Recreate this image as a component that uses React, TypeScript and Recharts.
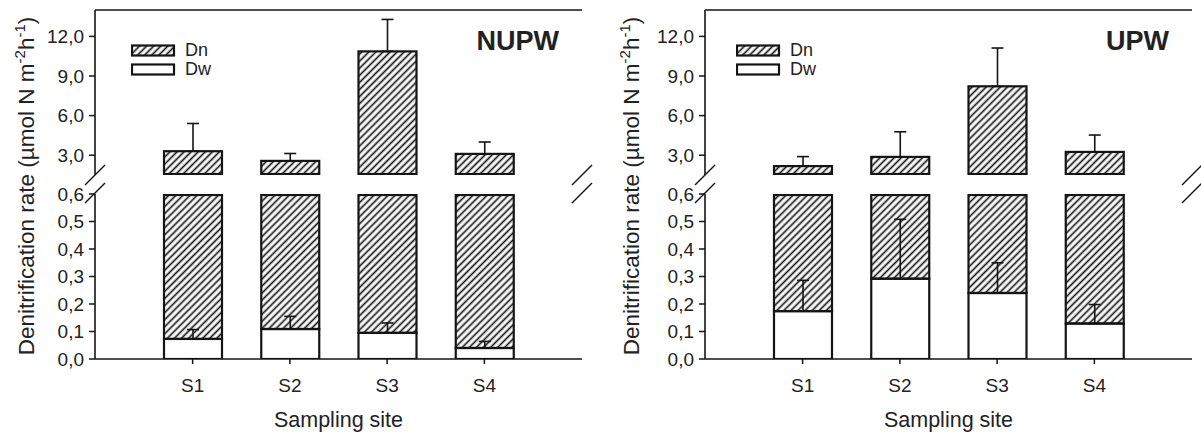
import { Bar, BarChart, ErrorBar, Legend, ReferenceLine, XAxis, YAxis } from 'recharts'

const sites = ['S1', 'S2', 'S3', 'S4']
const seriesNames = ['Dn', 'Dw']

// NUPW panel
const nupwDw = [0.073, 0.109, 0.095, 0.04]
const nupwDwErr = [0.034, 0.046, 0.036, 0.024]
const nupwDn = [3.23, 2.46, 10.77, 3.06]
const nupwDnErr = [2.1, 0.56, 2.42, 0.9]

// UPW panel
const upwDw = [0.174, 0.292, 0.24, 0.129]
const upwDwErr = [0.112, 0.216, 0.11, 0.069]
const upwDn = [2.0, 2.58, 7.98, 3.12]
const upwDnErr = [0.72, 1.9, 2.9, 1.28]

const upperTicks = [3, 6, 9, 12]
const lowerTicks = [0, 0.1, 0.2, 0.3, 0.4, 0.5, 0.6]
const upperDomain = [1.5, 14]
const lowerDomain = [0, 0.6]

const W = 600
const H = 432
const AXIS_W = 95
const RIGHT = 18
const UPPER_TOP = 10
const UPPER_BOTTOM = 175
const LOWER_TOP = 194
const LOWER_BOTTOM = 359
const PLOT_RIGHT = W - RIGHT
const INK = '#141414'
const TEXT = '#222'
const FONT = '"Liberation Sans", Arial, sans-serif'

const fmt = (v: number) => v.toFixed(1).replace('.', ',')

const tickStyle = { fill: TEXT, fontSize: 19, fontFamily: FONT }

// bars are cut at the edges of each axis segment, keeping their outline
function clampedShape(top: number, bottom: number) {
  return (props: any) => {
    const { x, y, width, height, fill } = props
    const y1 = Math.max(Math.min(y, y + height), top + 1)
    const y2 = Math.min(Math.max(y, y + height), bottom - 1)
    if (!(y2 > y1) || !(width > 0)) return <g />
    return <rect x={x} y={y1} width={width} height={y2 - y1} fill={fill} stroke={INK} strokeWidth={2.2} />
  }
}

function Hatch({ id }: { id: string }) {
  return (
    <defs>
      <pattern id={id} patternUnits="userSpaceOnUse" width={5} height={5} patternTransform="rotate(45)">
        <line x1={2.5} y1={0} x2={2.5} y2={5} stroke={INK} strokeWidth={1.7} />
      </pattern>
    </defs>
  )
}

function LegendBox({ hatchId }: { hatchId: string }) {
  return (
    <div style={{ fontFamily: FONT, fontSize: 18, color: TEXT }}>
      {seriesNames.map((name, i) => (
        <div key={name} style={{ display: 'flex', alignItems: 'center', height: 19 }}>
          <svg width={45} height={13}>
            <rect x={1} y={1.5} width={42} height={10} fill={i === 0 ? `url(#${hatchId})` : '#fff'} stroke={INK} strokeWidth={2.2} />
          </svg>
          <span style={{ marginLeft: 9 }}>{name}</span>
        </div>
      ))}
    </div>
  )
}

type PanelProps = {
  left: number
  title: string
  dw: number[]
  dwErr: number[]
  dn: number[]
  dnErr: number[]
  legendLeft: number
  labelX: number
  id: string
}

function Panel({ left, title, dw, dwErr, dn, dnErr, legendLeft, labelX, id }: PanelProps) {
  const data = sites.map((site, i) => ({
    site,
    dw: dw[i],
    dn: dn[i],
    dwErr: [0, dwErr[i]],
    dnErr: [0, dnErr[i]],
  }))
  const hatchId = `hatch-${id}`
  const xPadding = { left: 49, right: 49 }
  const frameAxis = { stroke: INK, strokeWidth: 1.6 }
  const slash = (cx: number, cy: number) => (
    <line x1={cx - 10} y1={cy + 10} x2={cx + 10} y2={cy - 10} stroke={INK} strokeWidth={1.5} />
  )

  return (
    <div style={{ position: 'absolute', left, top: 0, width: W, height: H }}>
      <div style={{ position: 'absolute', left: 0, top: 0 }}>
        <BarChart width={W} height={H} data={data} margin={{ top: UPPER_TOP, right: RIGHT, bottom: H - UPPER_BOTTOM, left: 0 }}>
          <Hatch id={hatchId} />
          <XAxis dataKey="site" hide padding={xPadding} />
          <YAxis
            type="number"
            domain={upperDomain}
            allowDataOverflow
            ticks={upperTicks}
            tickFormatter={fmt}
            width={AXIS_W}
            tick={tickStyle}
            tickSize={6}
            tickMargin={5}
            axisLine={frameAxis}
            tickLine={{ stroke: INK, strokeWidth: 1.5 }}
          />
          <YAxis yAxisId="frame" orientation="right" type="number" domain={[0, 1]} width={0} tick={false} tickLine={false} axisLine={frameAxis} />
          <ReferenceLine y={upperDomain[1]} stroke={INK} strokeWidth={1.6} ifOverflow="visible" />
          <Bar dataKey="dw" name="Dw" stackId="a" fill="#fff" barSize={58} isAnimationActive={false} shape={clampedShape(UPPER_TOP, UPPER_BOTTOM)} />
          <Bar dataKey="dn" name="Dn" stackId="a" fill={`url(#${hatchId})`} barSize={58} isAnimationActive={false} shape={clampedShape(UPPER_TOP, UPPER_BOTTOM)}>
            <ErrorBar dataKey="dnErr" direction="y" width={6} stroke={INK} strokeWidth={1.6} />
          </Bar>
          <Legend
            layout="vertical"
            align="center"
            verticalAlign="middle"
            wrapperStyle={{ left: legendLeft, top: 41, width: 'auto', height: 'auto' }}
            content={() => <LegendBox hatchId={hatchId} />}
          />
        </BarChart>
      </div>
      <div style={{ position: 'absolute', left: 0, top: 0 }}>
        <BarChart width={W} height={H} data={data} margin={{ top: LOWER_TOP, right: RIGHT, bottom: 0, left: 0 }}>
          <XAxis
            dataKey="site"
            padding={xPadding}
            height={H - LOWER_BOTTOM}
            tick={tickStyle}
            tickSize={5}
            tickMargin={15}
            axisLine={frameAxis}
            tickLine={{ stroke: INK, strokeWidth: 1.5 }}
            label={{ value: 'Sampling site', position: 'insideBottom', offset: 5, fill: TEXT, fontSize: 21.5, fontFamily: FONT }}
          />
          <YAxis
            type="number"
            domain={lowerDomain}
            allowDataOverflow
            ticks={lowerTicks}
            tickFormatter={fmt}
            width={AXIS_W}
            tick={tickStyle}
            tickSize={6}
            tickMargin={5}
            axisLine={frameAxis}
            tickLine={{ stroke: INK, strokeWidth: 1.5 }}
          />
          <YAxis yAxisId="frame" orientation="right" type="number" domain={[0, 1]} width={0} tick={false} tickLine={false} axisLine={frameAxis} />
          <Bar dataKey="dw" name="Dw" stackId="a" fill="#fff" barSize={58} isAnimationActive={false} shape={clampedShape(LOWER_TOP, LOWER_BOTTOM + 1)}>
            <ErrorBar dataKey="dwErr" direction="y" width={6} stroke={INK} strokeWidth={1.6} />
          </Bar>
          <Bar dataKey="dn" name="Dn" stackId="a" fill={`url(#${hatchId})`} barSize={58} isAnimationActive={false} shape={clampedShape(LOWER_TOP, LOWER_BOTTOM + 1)} />
        </BarChart>
      </div>
      <svg width={W} height={H} style={{ position: 'absolute', left: 0, top: 0, pointerEvents: 'none', overflow: 'visible' }}>
        <text x={PLOT_RIGHT - 23} y={50} textAnchor="end" fontFamily={FONT} fontWeight="bold" fontSize={27} fill={TEXT}>
          {title}
        </text>
        <text
          transform={`translate(${labelX}, 186) rotate(-90)`}
          textAnchor="middle"
          fontFamily={FONT}
          fontSize={22.5}
          fill={TEXT}
        >
          Denitrification rate (µmol N m
          <tspan dy={-9} fontSize={15}>-2</tspan>
          <tspan dy={9}>h</tspan>
          <tspan dy={-9} fontSize={15}>-1</tspan>
          <tspan dy={9}>)</tspan>
        </text>
        {slash(AXIS_W, 175)}
        {slash(AXIS_W, 193)}
        {slash(PLOT_RIGHT, 175)}
        {slash(PLOT_RIGHT, 193)}
      </svg>
    </div>
  )
}

export default function App() {
  return (
    <div style={{ position: 'relative', width: 1201, height: 432, overflow: 'hidden', background: '#fff' }}>
      <style>{'body{margin:0}'}</style>
      <Panel left={0} title="NUPW" dw={nupwDw} dwErr={nupwDwErr} dn={nupwDn} dnErr={nupwDnErr} legendLeft={131} labelX={34} id="nupw" />
      <Panel left={610} title="UPW" dw={upwDw} dwErr={upwDwErr} dn={upwDn} dnErr={upwDnErr} legendLeft={126} labelX={29} id="upw" />
    </div>
  )
}
